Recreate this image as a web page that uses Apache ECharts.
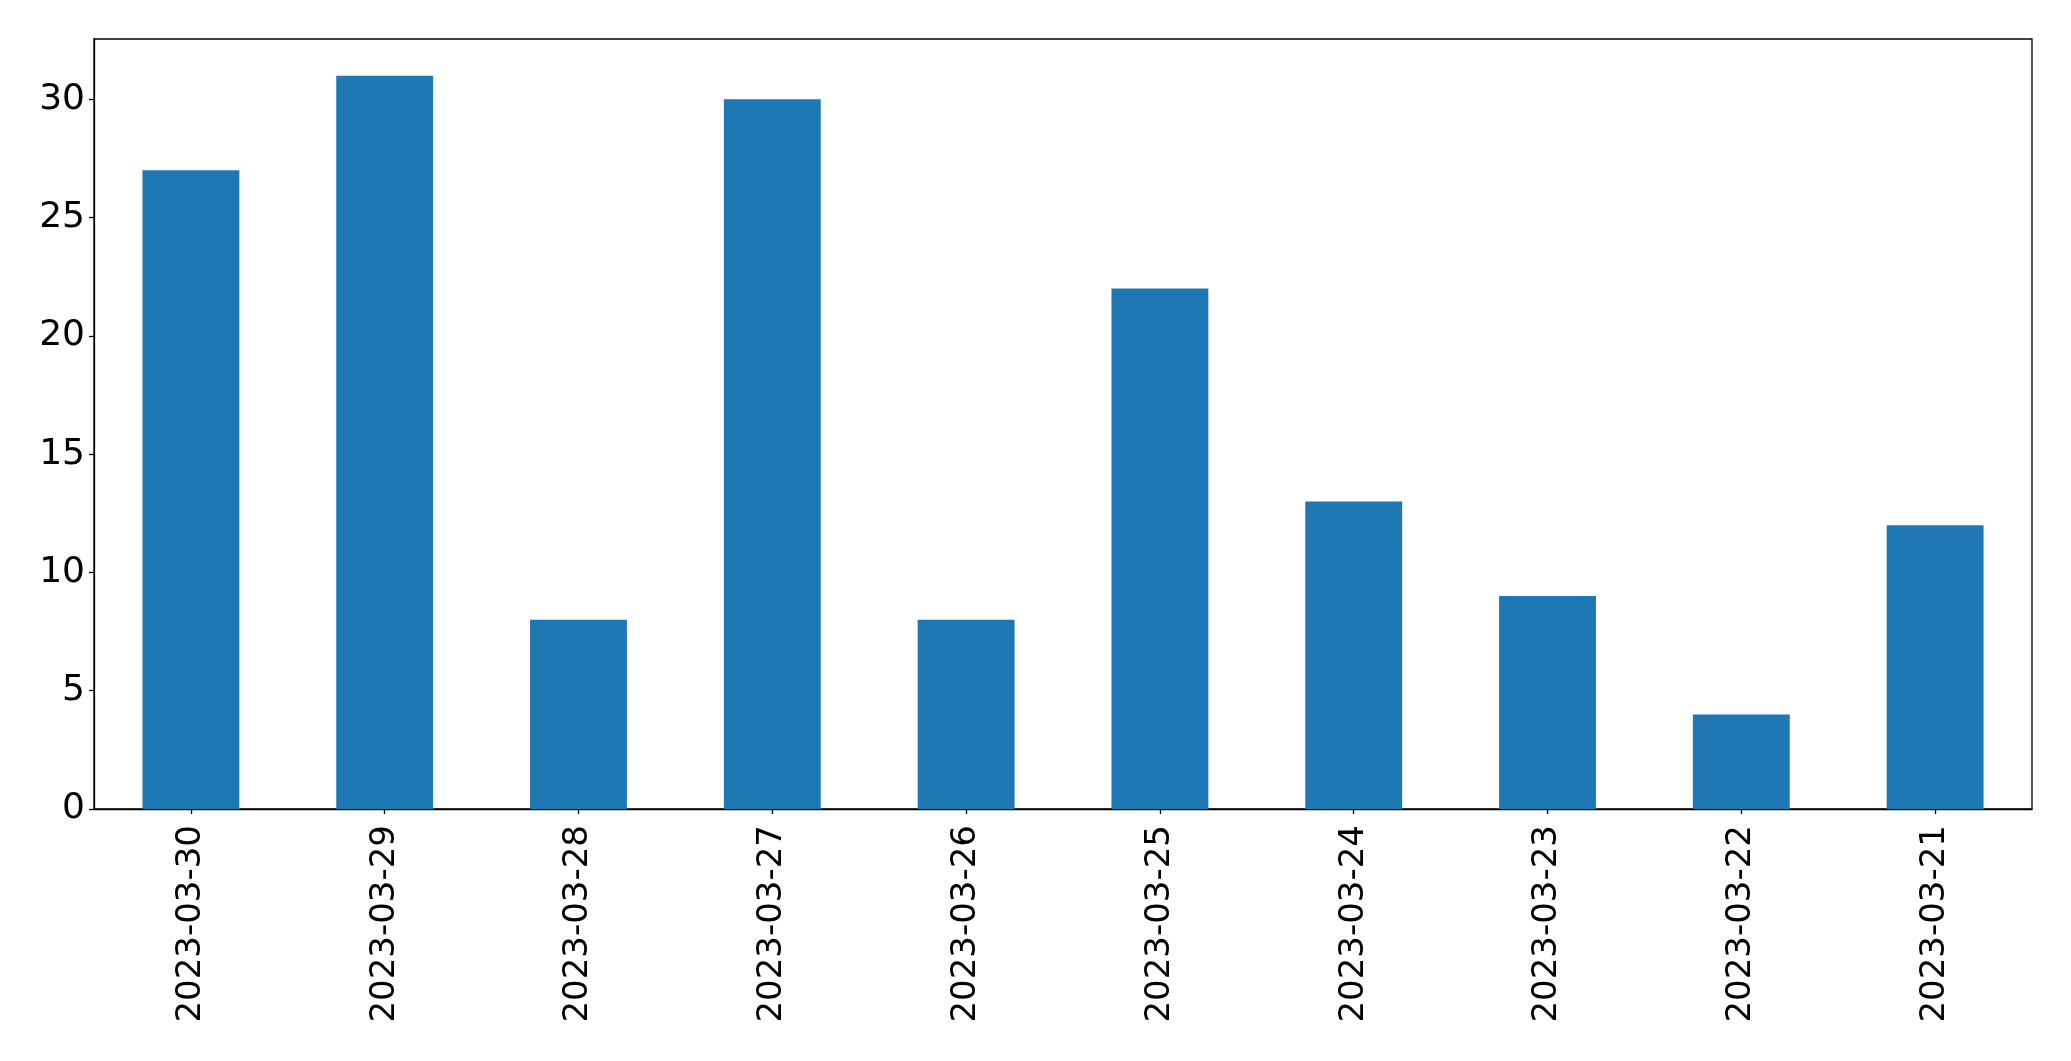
<!DOCTYPE html>
<html><head><meta charset="utf-8">
<script src="https://cdn.jsdelivr.net/npm/echarts@6/dist/echarts.min.js"></script>
<style>html,body{margin:0;padding:0;background:#fff}#c{width:2071px;height:1061px}</style>
</head><body><div id="c"></div>
<script>
const categories = ['2023-03-30','2023-03-29','2023-03-28','2023-03-27','2023-03-26','2023-03-25','2023-03-24','2023-03-23','2023-03-22','2023-03-21'];
const values = [27, 31, 8, 30, 8, 22, 13, 9, 4, 12];
const yTicks = [0, 5, 10, 15, 20, 25, 30];

const chart = echarts.init(document.getElementById('c'), null, {renderer: 'canvas'});
const font = 'DejaVu Sans';
chart.setOption({
  animation: false,
  grid: {left: 94, right: 39, top: 39, bottom: 252, show: true, borderColor: '#000', borderWidth: 1.3, backgroundColor: 'transparent'},
  xAxis: {
    type: 'category', data: categories, boundaryGap: true,
    axisLine: {show: true, lineStyle: {color: '#000', width: 1.3}},
    axisTick: {show: true, alignWithLabel: true, length: 5, lineStyle: {color: '#000', width: 1.3}},
    axisLabel: {rotate: 90, margin: 16, color: '#000', fontFamily: font, fontSize: 34, interval: 0},
    splitLine: {show: false}
  },
  yAxis: {
    type: 'value', min: 0, max: 32.55, interval: 5,
    axisLine: {show: true, lineStyle: {color: '#000', width: 1.3}},
    axisTick: {show: true, length: 5, lineStyle: {color: '#000', width: 1.3}, customValues: yTicks},
    axisLabel: {margin: 9, color: '#000', fontFamily: font, fontSize: 36, customValues: yTicks},
    splitLine: {show: false}
  },
  series: [{
    type: 'bar', data: values, barWidth: '50%',
    itemStyle: {color: '#1f77b4'}
  }]
});
</script></body></html>
